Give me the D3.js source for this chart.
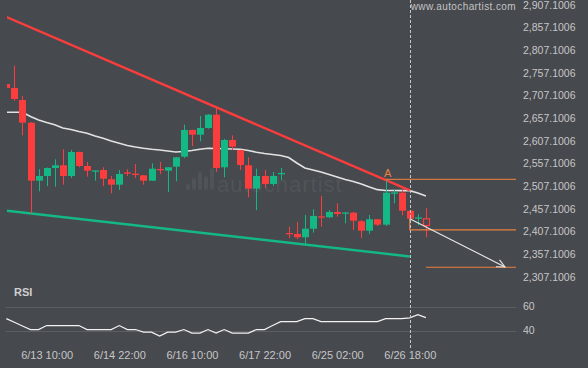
<!DOCTYPE html>
<html><head><meta charset="utf-8">
<script src="https://cdn.jsdelivr.net/npm/d3@7"></script>
<style>
html,body{margin:0;padding:0;background:#46494e;}
svg{display:block;}
text{font-family:"Liberation Sans",Arial,sans-serif;}
</style></head>
<body><svg id="c" width="588" height="368"></svg>
<script>
// ---- data ----
const open  = [2732.2,2723.4,2696.9,2646.8,2518.9,2529.3,2546.9,2552.9,2529.3,2582.2,2551.3,2540.5,2542.5,2522.0,2510.1,2537.2,2534.3,2530.8,2518.9,2544.7,2541.0,2549.8,2571.9,2630.7,2620.4,2635.2,2664.5,2548.5,2608.7,2586.6,2552.9,2501.3,2529.3,2511.6,2534.4,2403.5,2401.4,2394.1,2413.0,2440.2,2438.2,2449.9,2447.8,2448.3,2429.4,2408.6,2433.8,2421.9,2491.8,2492.4,2452.7,2436.7,2436.0];
const high  = [2732.2,2772.6,2705.7,2648.4,2544.1,2548.0,2566.1,2588.2,2586.6,2583.0,2560.2,2541.5,2548.5,2529.3,2542.5,2544.1,2555.7,2531.5,2557.3,2560.2,2549.1,2571.2,2642.4,2631.5,2661.6,2666.0,2680.8,2610.9,2619.0,2587.0,2570.5,2545.4,2542.5,2538.1,2546.9,2417.5,2427.8,2443.3,2455.8,2485.2,2454.3,2469.1,2449.9,2449.9,2432.2,2443.3,2434.4,2520.5,2499.9,2499.9,2454.3,2444.8,2458.0];
const low   = [2723.4,2694.7,2619.0,2447.0,2495.5,2507.2,2505.7,2510.1,2524.9,2548.5,2527.7,2518.9,2507.2,2491.1,2498.4,2529.3,2524.9,2510.1,2518.2,2533.7,2494.0,2517.6,2569.0,2595.4,2605.8,2633.6,2538.1,2526.4,2586.6,2542.5,2482.3,2454.3,2502.8,2507.2,2520.5,2391.9,2390.0,2379.3,2404.2,2417.5,2436.6,2439.5,2424.9,2410.2,2392.5,2401.4,2419.0,2419.0,2469.1,2442.6,2434.0,2420.5,2394.1];
const close = [2723.4,2699.1,2646.8,2518.9,2529.3,2546.9,2552.9,2529.3,2582.2,2551.3,2541.0,2541.5,2523.3,2510.1,2533.7,2536.0,2533.1,2518.9,2545.4,2543.2,2548.5,2570.5,2630.7,2620.4,2635.2,2664.5,2546.9,2608.7,2593.9,2553.5,2501.3,2529.3,2511.6,2529.3,2535.9,2402.3,2394.1,2413.0,2441.1,2438.8,2449.9,2445.5,2448.8,2430.7,2408.6,2433.8,2421.9,2492.4,2493.0,2452.7,2435.1,2437.9,2419.0];
const maValues = [2669.8,2669.8,2669.8,2660.5,2652.8,2647.3,2642.4,2635.2,2631.8,2627.4,2623.5,2617.5,2612.4,2606.5,2601.6,2596.6,2593.2,2590.4,2588.2,2586.6,2584.4,2582.2,2583.3,2585.5,2588.4,2590.4,2590.0,2589.5,2588.8,2588.2,2585.5,2581.6,2578.9,2576.7,2574.5,2570.1,2558.0,2547.0,2542.5,2538.1,2532.6,2527.1,2521.6,2517.1,2511.6,2505.0,2499.1,2497.3,2497.3,2496.9,2496.9,2491.8,2485.2];
const rsiValues = [49.9,46.9,43.8,40.8,40.8,44.1,44.1,44.1,44.1,44.1,40.8,40.8,40.8,40.8,44.1,40.8,40.8,38.6,38.6,35.3,38.6,38.6,40.8,37.8,37.8,40.8,37.8,40.8,37.8,37.8,37.8,40.8,40.8,44.1,47.4,47.4,47.4,49.9,49.9,47.4,47.4,47.4,47.4,47.4,47.4,47.4,47.4,49.9,49.9,49.9,50.5,53.2,50.7];
const xTickIndex = [5,14,23,32,41,50];
const xTickLabels = ["6/13 10:00","6/14 22:00","6/16 10:00","6/17 22:00","6/25 02:00","6/26 18:00"];
const yTicks = [2907.1006,2857.1006,2807.1006,2757.1006,2707.1006,2657.1006,2607.1006,2557.1006,2507.1006,2457.1006,2407.1006,2357.1006,2307.1006];
const rsiTicks = [60,40];
// pattern annotations (index, price)
const resistance = [[0,2880.0],[50,2497.3]];
const support = [[0,2452.8],[50,2351.7]];
const levelA = 2522.0, levelMid = 2410.2, levelLow = 2327.9;
const forecast = [[50,2435.1],[61.8,2328.6]];
const currentIndex = 50, pointA = 47;

// ---- layout ----
const svg = d3.select("#c");
const W = 588, H = 368, plotL = 7, plotR = 516;
svg.append("rect").attr("width",W).attr("height",H).attr("fill","#46494e");

const x = d3.scaleLinear().domain([0,52]).range([6.3,425.9]);
const y = d3.scaleLinear().domain([2307.1006,2907.1006]).range([276.7,4.7]);
const yr = d3.scaleLinear().domain([40,60]).range([330.5,306.5]);

const RED = "#fb3d3d", GREEN = "#14b884", ORANGE = "#ec7f3f";

svg.append("defs").append("clipPath").attr("id","clip")
  .append("rect").attr("x",plotL).attr("y",0).attr("width",plotR-plotL).attr("height",281);

// watermark
const wm = svg.append("g").attr("fill","#505459");
[[0,6],[1,12],[2,18],[3,14],[4,22]].forEach(([k,h])=>{
  wm.append("rect").attr("x",186+k*6).attr("y",190-h).attr("width",4).attr("height",h).attr("rx",2);
});
wm.append("text").attr("x",217).attr("y",192).attr("font-size",22).attr("letter-spacing",1)
  .attr("font-family","Lato, sans-serif").text("autochartist");
svg.append("text").attr("x",516).attr("y",10).attr("text-anchor","end").attr("font-size",10)
  .attr("fill","#c4c4c4").attr("letter-spacing",0.4).text("www.autochartist.com");

// y axis labels
const ya = svg.append("g").attr("transform","translate(523,0)")
  .call(d3.axisRight(y).tickValues(yTicks).tickSize(0).tickPadding(0)
  .tickFormat(d=>d3.format(",.4f")(d)));
ya.select(".domain").remove();
ya.selectAll("text").attr("fill","#c6c6c6").attr("font-size",10.5).attr("font-family","Liberation Sans, Arial, sans-serif");

const g = svg.append("g").attr("clip-path","url(#clip)");

// moving average
g.append("path").datum(maValues).attr("fill","none").attr("stroke","#e2e2e2").attr("stroke-width",1.6)
  .attr("d",d3.line().x((d,i)=>x(i)).y(d=>y(d)));

// trend lines
const tl = d3.line().x(d=>x(d[0])).y(d=>y(d[1]));
g.append("path").datum(resistance).attr("stroke",RED).attr("stroke-width",2.4).attr("fill","none").attr("d",tl);
g.append("path").datum(support).attr("stroke",GREEN).attr("stroke-width",2.4).attr("fill","none").attr("d",tl);

// candles
const bw = 7;
const idx = d3.range(open.length);
const cg = g.append("g");
idx.forEach(i=>{
  const up = close[i] >= open[i];
  const col = (i===52) ? RED : (up ? GREEN : RED);
  const hollow = i===52;
  const top = y(Math.max(open[i],close[i])), bot = y(Math.min(open[i],close[i]));
  cg.append("line").attr("x1",Math.round(x(i))+0.5).attr("x2",Math.round(x(i))+0.5)
    .attr("y1",y(high[i])).attr("y2",hollow?top:y(low[i])).attr("stroke",col).attr("stroke-width",1);
  if(hollow){
    cg.append("line").attr("x1",Math.round(x(i))+0.5).attr("x2",Math.round(x(i))+0.5)
      .attr("y1",bot).attr("y2",y(low[i])).attr("stroke",col);
    cg.append("rect").attr("x",Math.round(x(i))-3+0.5).attr("y",top+0.5).attr("width",bw-1)
      .attr("height",Math.max(1,bot-top-1)).attr("fill","none").attr("stroke",col).attr("stroke-width",1.2);
  } else {
    cg.append("rect").attr("x",Math.round(x(i))-3).attr("y",top).attr("width",bw)
      .attr("height",Math.max(1.3,bot-top)).attr("fill",col);
  }
});

// orange levels
const ol = svg.append("g").attr("stroke",ORANGE).attr("stroke-width",1.2).attr("fill","none");
ol.append("line").attr("x1",x(pointA)).attr("x2",plotR).attr("y1",y(levelA)).attr("y2",y(levelA)).attr("opacity",0.85);
ol.append("line").attr("x1",x(currentIndex)).attr("x2",plotR).attr("y1",y(levelMid)).attr("y2",y(levelMid));
ol.append("line").attr("x1",x(currentIndex)).attr("x2",x(currentIndex)).attr("y1",y(close[currentIndex])).attr("y2",y(levelMid));
ol.append("line").attr("x1",x(52)).attr("x2",plotR).attr("y1",y(levelLow)).attr("y2",y(levelLow));
svg.append("text").attr("x",x(pointA)+2).attr("y",y(high[pointA])-3).attr("text-anchor","middle")
  .attr("font-size",11).attr("fill",ORANGE).text("A");

// forecast arrow
const fx0=x(forecast[0][0]), fy0=y(forecast[0][1]), fx1=x(forecast[1][0]), fy1=y(forecast[1][1]);
svg.append("line").attr("x1",fx0).attr("y1",fy0).attr("x2",fx1).attr("y2",fy1).attr("stroke","#e8e8e8").attr("stroke-width",1.1);
const ang = Math.atan2(fy1-fy0,fx1-fx0), ah=9, aw=0.45;
svg.append("path").attr("fill","none").attr("stroke","#e8e8e8").attr("stroke-width",1.1)
  .attr("d",`M${fx1-ah*Math.cos(ang-aw)},${fy1-ah*Math.sin(ang-aw)}L${fx1},${fy1}L${fx1-ah*Math.cos(ang+aw)},${fy1-ah*Math.sin(ang+aw)}`);

// RSI panel
svg.append("text").attr("x",14).attr("y",296).attr("font-size",11).attr("font-weight","bold").attr("fill","#d0d0d0").text("RSI");
rsiTicks.forEach(t=>{
  svg.append("line").attr("x1",6).attr("x2",516).attr("y1",Math.round(yr(t))+0.5).attr("y2",Math.round(yr(t))+0.5)
    .attr("stroke","#5b5f64").attr("stroke-width",1);
});
const ra = svg.append("g").attr("transform","translate(523,0)")
  .call(d3.axisRight(yr).tickValues(rsiTicks).tickSize(0).tickPadding(0));
ra.select(".domain").remove();
ra.selectAll("text").attr("fill","#c6c6c6").attr("font-size",10.5).attr("font-family","Liberation Sans, Arial, sans-serif");
svg.append("path").datum(rsiValues).attr("fill","none").attr("stroke","#f2f2f2").attr("stroke-width",1.2)
  .attr("d",d3.line().x((d,i)=>x(i)).y(d=>yr(d)));

// dashed current line
svg.append("line").attr("x1",Math.round(x(currentIndex))+0.5).attr("x2",Math.round(x(currentIndex))+0.5)
  .attr("y1",0).attr("y2",348).attr("stroke","#c8c8c8").attr("stroke-width",1).attr("stroke-dasharray","3,2");

// x axis labels
const xa = svg.append("g").attr("transform","translate(0,355)")
  .call(d3.axisBottom(x).tickValues(xTickIndex).tickSize(0).tickPadding(0)
  .tickFormat((d,i)=>xTickLabels[i]));
xa.select(".domain").remove();
xa.selectAll("text").attr("fill","#c6c6c6").attr("font-size",11).attr("dy","0").attr("y",4)
  .attr("font-family","Liberation Sans, Arial, sans-serif");
</script></body></html>
